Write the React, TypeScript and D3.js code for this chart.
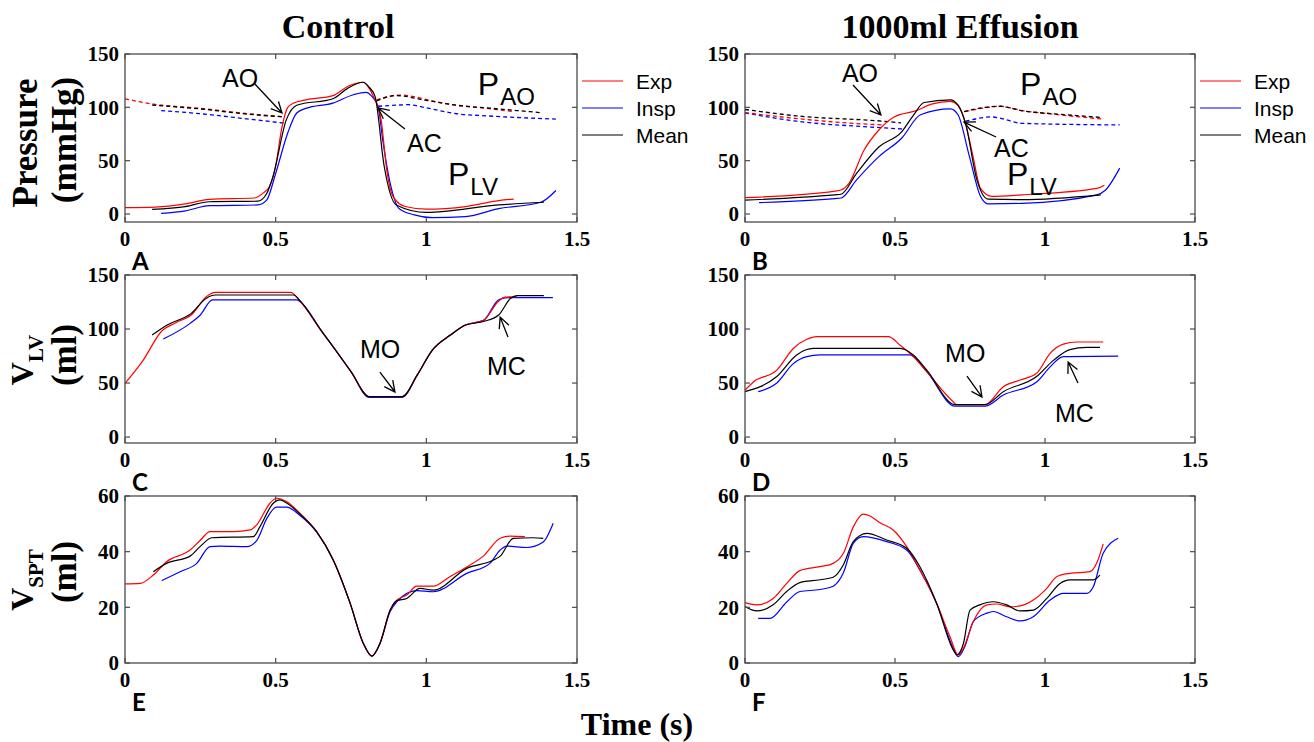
import React from "react";
import * as d3 from "d3";

type Pt = [number, number];

// ---------- Panel A : Control, pressure (P_LV solid, P_AO dashed) ----------
const ctrlPlvExp: Pt[] = [[0,6],[0.1,6.5],[0.2,9.5],[0.28,13.8],[0.43,15],[0.46,20],[0.48,26],[0.5,45],[0.52,80],[0.54,100],[0.56,104],[0.6,107],[0.69,111],[0.74,119.8],[0.79,123.5],[0.81,118],[0.825,110],[0.85,88],[0.87,38.5],[0.89,16],[0.93,7],[1.0,4.5],[1.13,7],[1.24,12.6],[1.29,14]];
const ctrlPlvInsp: Pt[] = [[0.12,0.5],[0.2,3],[0.28,7.8],[0.44,8.5],[0.47,13],[0.5,38],[0.54,76],[0.57,94.7],[0.6,99],[0.69,104],[0.76,112],[0.8,114],[0.82,110],[0.84,101],[0.855,70],[0.88,29],[0.91,5],[0.96,-0.8],[1.02,-3.4],[1.13,-2.5],[1.24,5],[1.38,11],[1.43,22]];
const ctrlPlvMean: Pt[] = [[0.09,4.4],[0.2,7],[0.28,11.5],[0.44,12],[0.47,19],[0.49,34],[0.535,88],[0.57,102],[0.69,108],[0.74,118],[0.79,123.5],[0.81,119],[0.83,110],[0.86,45],[0.9,8.5],[1.0,1.5],[1.24,8.5],[1.39,11]];
const ctrlPaoExpPre: Pt[] = [[0,108],[0.083,103.5],[0.25,99],[0.41,94],[0.53,91]];
const ctrlPaoInspPre: Pt[] = [[0.12,97],[0.25,94],[0.41,89],[0.535,85]];
const ctrlPaoMeanPre: Pt[] = [[0.09,102],[0.25,98.5],[0.41,93.5],[0.53,91]];
const ctrlPaoExpPost: Pt[] = [[0.835,107],[0.88,110.5],[0.92,111.5],[0.96,110],[1.02,106],[1.1,102],[1.2,99],[1.29,96]];
const ctrlPaoInspPost: Pt[] = [[0.84,101],[0.9,102],[0.94,102.5],[1.0,99.5],[1.1,94],[1.2,92],[1.3,90.5],[1.43,89]];
const ctrlPaoMeanPost: Pt[] = [[0.835,106],[0.9,111],[1.0,106.5],[1.1,102],[1.2,99.5],[1.3,97],[1.38,95]];

// ---------- Panel B : 1000ml Effusion, pressure ----------
const effPlvExp: Pt[] = [[0,15.4],[0.3,21.5],[0.32,22.5],[0.347,29],[0.397,60],[0.447,79],[0.497,91],[0.572,97],[0.622,103],[0.685,105.5],[0.71,102],[0.735,85],[0.76,54],[0.785,24],[0.823,16.6],[0.923,18],[1.173,24],[1.198,27]];
const effPlvInsp: Pt[] = [[0.047,10.7],[0.3,14.5],[0.32,15],[0.372,32],[0.447,54],[0.522,71],[0.585,93],[0.685,98.5],[0.71,93],[0.748,54],[0.785,16.6],[0.81,9.5],[0.923,10],[1.173,18],[1.2,22],[1.249,43]];
const effPlvMean: Pt[] = [[0,13],[0.3,18],[0.32,18.5],[0.372,38],[0.447,63],[0.522,77],[0.56,92],[0.597,104.5],[0.685,107],[0.71,102],[0.735,85],[0.773,32],[0.81,14],[0.923,13.5],[1.186,18]];
const effPaoExpPre: Pt[] = [[0,95],[0.172,89.5],[0.36,85],[0.46,83.5]];
const effPaoInspPre: Pt[] = [[0,94.7],[0.172,87],[0.42,81.5],[0.53,79.6]];
const effPaoMeanPre: Pt[] = [[0,98],[0.172,92],[0.46,87],[0.52,85.5]];
const effPaoExpPost: Pt[] = [[0.735,96],[0.798,99.5],[0.848,101],[0.923,97],[1.048,93],[1.192,89]];
const effPaoInspPost: Pt[] = [[0.735,87],[0.823,91],[0.848,90],[0.923,85],[1.249,83.5]];
const effPaoMeanPost: Pt[] = [[0.73,96],[0.8,100],[0.85,101],[0.92,97],[1.05,93.5],[1.19,90.5]];

// ---------- Panel C : Control, V_LV ----------
const ctrlVlvExp: Pt[] = [[0,49.7],[0.06,71],[0.12,97.5],[0.17,106],[0.22,113],[0.27,130],[0.3,134],[0.55,134],[0.58,126],[0.65,99],[0.7,80],[0.75,60.6],[0.81,37.5],[0.92,37.5],[0.97,57.5],[1.02,80.5],[1.08,94.4],[1.13,103.7],[1.19,108],[1.24,126],[1.26,129.5],[1.3,130]];
const ctrlVlvInsp: Pt[] = [[0.127,90.7],[0.215,105],[0.25,113],[0.29,127],[0.57,127],[0.59,123],[0.65,99],[0.7,80],[0.75,60.6],[0.81,36.8],[0.92,36.8],[0.97,57.5],[1.02,80.5],[1.08,94.4],[1.13,103.7],[1.19,108],[1.24,127],[1.27,129],[1.42,129]];
const ctrlVlvMean: Pt[] = [[0.09,94.4],[0.14,103.7],[0.22,114.5],[0.27,128.5],[0.3,131.5],[0.56,131.5],[0.58,126.5],[0.65,99],[0.7,80],[0.75,60.6],[0.81,37.5],[0.92,37.5],[0.97,57.5],[1.02,80.5],[1.08,94.4],[1.13,103.7],[1.19,107],[1.24,113],[1.28,128.5],[1.3,131],[1.39,131]];

// ---------- Panel D : 1000ml Effusion, V_LV ----------
const effVlvExp: Pt[] = [[0,43.5],[0.028,51],[0.106,62],[0.161,82],[0.206,90.5],[0.239,93],[0.478,93],[0.517,85],[0.561,74.5],[0.606,60.5],[0.694,32.7],[0.706,30],[0.8,30],[0.861,46.6],[0.917,52.8],[0.972,59],[1.017,77.5],[1.061,86],[1.106,88],[1.194,88]];
const effVlvInsp: Pt[] = [[0.044,42],[0.106,50],[0.161,68],[0.206,74.5],[0.25,76],[0.55,76],[0.606,60.5],[0.7,28.6],[0.8,28.6],[0.861,38.9],[0.972,51],[1.017,65],[1.061,74.5],[1.244,75]];
const effVlvMean: Pt[] = [[0,42],[0.106,56],[0.172,76],[0.228,82],[0.517,82],[0.561,76],[0.606,62],[0.7,30],[0.8,30],[0.861,42],[0.972,56],[1.028,71],[1.083,81],[1.139,83],[1.183,83]];

// ---------- Panel E : Control, V_SPT ----------
const ctrlVsptExp: Pt[] = [[0,28.4],[0.05,28.6],[0.094,31.6],[0.138,36.4],[0.216,40.6],[0.249,44],[0.282,47.2],[0.36,47.2],[0.415,47.8],[0.437,49.6],[0.481,57.4],[0.503,59.2],[0.536,58],[0.581,53.7],[0.636,47.2],[0.691,37],[0.747,21.5],[0.791,7],[0.819,2.5],[0.846,7],[0.88,19],[0.902,22.6],[0.935,24.4],[0.968,27.6],[1.023,27.6],[1.078,31],[1.134,34.5],[1.189,38.4],[1.245,44.8],[1.278,45.6],[1.327,45.4]];
const ctrlVsptInsp: Pt[] = [[0.122,29.6],[0.183,32.8],[0.238,35.8],[0.282,41.8],[0.315,42],[0.404,41.8],[0.437,44],[0.47,51.8],[0.503,56],[0.536,56],[0.581,53],[0.636,47],[0.691,37],[0.747,21.5],[0.791,7],[0.819,2.5],[0.846,7],[0.88,18.5],[0.902,22],[0.968,26],[1.023,25.6],[1.134,32.2],[1.211,35.8],[1.245,40.6],[1.267,42],[1.333,41.5],[1.388,43.5],[1.421,50.2]];
const ctrlVsptMean: Pt[] = [[0.094,32.8],[0.138,35.8],[0.216,38.4],[0.249,41.8],[0.288,45],[0.426,45.4],[0.448,49],[0.492,57.4],[0.514,58.6],[0.536,57.5],[0.581,53.5],[0.636,47.2],[0.691,37],[0.747,21.5],[0.791,7],[0.819,2.5],[0.846,7],[0.88,19],[0.902,22.4],[0.935,23.2],[0.979,26.8],[1.023,26.2],[1.134,34],[1.223,37],[1.245,38.4],[1.289,44.8],[1.355,45],[1.388,44.8]];

// ---------- Panel F : 1000ml Effusion, V_SPT ----------
const effVsptExp: Pt[] = [[0,21.7],[0.039,20.9],[0.094,23.2],[0.139,28.6],[0.183,33.2],[0.25,34.6],[0.294,35.8],[0.328,39.4],[0.361,48.9],[0.394,53.5],[0.417,52.8],[0.45,50.4],[0.494,47.8],[0.539,41.8],[0.583,33.4],[0.639,21.4],[0.683,9.5],[0.711,2.9],[0.728,5.3],[0.761,14.9],[0.806,20.9],[0.839,21.2],[0.883,20.2],[0.917,20.5],[0.961,22.6],[1.006,26.8],[1.039,31],[1.083,32.2],[1.15,32.8],[1.172,35.8],[1.194,42.8]];
const effVsptInsp: Pt[] = [[0.044,16],[0.083,16],[0.139,21.9],[0.183,25.7],[0.25,26.4],[0.294,27.6],[0.328,32.4],[0.361,43],[0.394,45.4],[0.472,43.6],[0.539,40.6],[0.583,33.4],[0.639,21.4],[0.694,5.3],[0.711,2.3],[0.733,5.9],[0.761,14.9],[0.806,17.9],[0.828,18.5],[0.872,16.6],[0.917,15.1],[0.961,16.6],[1.017,22.6],[1.061,25],[1.139,25],[1.161,27.4],[1.194,39.4],[1.244,44.8]];
const effVsptMean: Pt[] = [[0,20.3],[0.039,18.7],[0.094,20.9],[0.139,25.7],[0.183,28.9],[0.25,29.9],[0.294,30.8],[0.328,35.3],[0.361,43.6],[0.406,46.6],[0.472,44.2],[0.539,41.2],[0.583,34.6],[0.639,21.4],[0.694,4.7],[0.706,2.9],[0.728,7],[0.75,19],[0.783,20.9],[0.828,22],[0.872,20.9],[0.917,18.7],[0.961,19],[1.006,23.2],[1.05,28.6],[1.083,29.9],[1.161,29.9],[1.183,31.6]];

// ---------- ticks, labels ----------
const xTicks = [0, 0.5, 1, 1.5];
const xTickLabels = ["0", "0.5", "1", "1.5"];
const pressureTicks = [0, 50, 100, 150];
const vlvTicks = [0, 50, 100, 150];
const vsptTicks = [0, 20, 40, 60];
const columnTitles = ["Control", "1000ml Effusion"];
const legendLabels = ["Exp", "Insp", "Mean"];
const panelLetters = ["A", "B", "C", "D", "E", "F"];

const RED = "#ff0000";
const BLUE = "#0000ff";
const BLACK = "#000000";
const SERIF = "'Liberation Serif','Times New Roman',serif";
const SANS = "'Liberation Sans',Arial,sans-serif";
const LETTERF = "Lato,'Open Sans',sans-serif";
const AXC = "#4a4a4a";

type Annot = { text: string; tx: number; ty: number; from: Pt; to: Pt };
type PLabel = { main: string; sub: string; at: Pt };

interface PanelProps {
  x0: number; x1: number; yTop: number; yBot: number;
  ydom: [number, number]; yticks: number[];
  solid: [Pt[], string][];
  dashed?: [Pt[], string][];
  annots?: Annot[];
  plabels?: PLabel[];
  letter: string;
}

function Panel(p: PanelProps) {
  const xs = d3.scaleLinear().domain([0, 1.5]).range([p.x0, p.x1]);
  const ys = d3.scaleLinear().domain(p.ydom).range([p.yBot, p.yTop]);
  const line = d3.line<Pt>().x((d) => xs(d[0])).y((d) => ys(d[1])).curve(d3.curveMonotoneX);
  const tl = 5;
  const arrowHead = (from: Pt, to: Pt) => {
    const fx = xs(from[0]), fy = ys(from[1]), tx = xs(to[0]), ty = ys(to[1]);
    const ang = Math.atan2(ty - fy, tx - fx);
    const L = 12, a = (26 * Math.PI) / 180;
    const p1 = [tx - L * Math.cos(ang - a), ty - L * Math.sin(ang - a)];
    const p2 = [tx - L * Math.cos(ang + a), ty - L * Math.sin(ang + a)];
    return `M${fx},${fy}L${tx},${ty}M${p1[0]},${p1[1]}L${tx},${ty}L${p2[0]},${p2[1]}`;
  };
  return (
    <g>
      {(p.dashed || []).map(([d, c], i) => (
        <path key={"d" + i} d={line(d) || ""} fill="none" stroke={c} strokeWidth={1.3} strokeDasharray="4 3" />
      ))}
      {p.solid.map(([d, c], i) => (
        <path key={"s" + i} d={line(d) || ""} fill="none" stroke={c} strokeWidth={1.2} />
      ))}
      <rect x={p.x0} y={p.yTop} width={p.x1 - p.x0} height={p.yBot - p.yTop} fill="none" stroke={AXC} strokeWidth={1.3} />
      {xTicks.map((t, i) => (
        <g key={"xt" + i}>
          <line x1={xs(t)} x2={xs(t)} y1={p.yBot} y2={p.yBot - tl} stroke={AXC} strokeWidth={1.2} />
          <line x1={xs(t)} x2={xs(t)} y1={p.yTop} y2={p.yTop + tl} stroke={AXC} strokeWidth={1.2} />
          <text x={xs(t)} y={p.yBot + 24} textAnchor="middle" fontFamily={SERIF} fontWeight="bold" fontSize={21}>{xTickLabels[i]}</text>
        </g>
      ))}
      {p.yticks.map((v, i) => (
        <g key={"yt" + i}>
          <line x1={p.x0} x2={p.x0 + tl} y1={ys(v)} y2={ys(v)} stroke={AXC} strokeWidth={1.2} />
          <line x1={p.x1} x2={p.x1 - tl} y1={ys(v)} y2={ys(v)} stroke={AXC} strokeWidth={1.2} />
          <text x={p.x0 - 6} y={ys(v)} dy="0.35em" textAnchor="end" fontFamily={SERIF} fontWeight="bold" fontSize={21}>{v}</text>
        </g>
      ))}
      {(p.annots || []).map((a, i) => (
        <g key={"a" + i}>
          <path d={arrowHead(a.from, a.to)} fill="none" stroke="#000" strokeWidth={1.3} />
          <text x={xs(a.tx)} y={ys(a.ty)} fontFamily={SANS} fontSize={25}>{a.text}</text>
        </g>
      ))}
      {(p.plabels || []).map((l, i) => (
        <text key={"pl" + i} x={xs(l.at[0])} y={ys(l.at[1])} fontFamily={SANS} fontSize={32}>
          {l.main}
          <tspan fontSize={24} dy={10} dx={1}>{l.sub}</tspan>
        </text>
      ))}
      <text x={p.x0 + 7} y={p.yBot + 48} fontFamily={LETTERF} fontWeight="bold" fontSize={24}>{p.letter}</text>
    </g>
  );
}

function Legend({ x, y }: { x: number; y: number }) {
  const cols = [RED, BLUE, BLACK];
  return (
    <g>
      {legendLabels.map((l, i) => (
        <g key={l}>
          <line x1={x} x2={x + 41} y1={y + i * 27} y2={y + i * 27} stroke={cols[i]} strokeWidth={1.2} />
          <text x={x + 54} y={y + i * 27} dy="0.36em" fontFamily={SANS} fontSize={21}>{l}</text>
        </g>
      ))}
    </g>
  );
}

function RotLabel({ x, y, main, sub, second, x2, y2 }: { x: number; y: number; main: string; sub?: string; second: string; x2: number; y2: number }) {
  return (
    <g fontFamily={SERIF} fontWeight="bold">
      <text transform={`translate(${x},${y}) rotate(-90)`} textAnchor="middle" fontSize={sub ? 32 : 35}>
        {main}
        {sub ? <tspan fontSize={21} dy={10}>{sub}</tspan> : null}
      </text>
      <text transform={`translate(${x2},${y2}) rotate(-90)`} textAnchor="middle" fontSize={35}>{second}</text>
    </g>
  );
}

export default function App() {
  const L = { x0: 125, x1: 577 };
  const R = { x0: 745, x1: 1195 };
  const row1 = { yTop: 54, yBot: 222, ydom: [-7.5, 150] as [number, number] };
  const row2 = { yTop: 275, yBot: 443, ydom: [-5.5, 150] as [number, number] };
  const row3 = { yTop: 496, yBot: 663, ydom: [0, 60] as [number, number] };
  return (
    <svg width={1314} height={742} style={{ position: "absolute", left: 0, top: 0, background: "#fff" }}>
      <rect width={1314} height={742} fill="#fff" />
      <text x={338} y={38} textAnchor="middle" fontFamily={SERIF} fontWeight="bold" fontSize={34}>{columnTitles[0]}</text>
      <text x={960} y={38} textAnchor="middle" fontFamily={SERIF} fontWeight="bold" fontSize={34}>{columnTitles[1]}</text>

      <RotLabel x={37} y={143} main="Pressure" second="(mmHg)" x2={76} y2={140} />
      <RotLabel x={33} y={360} main="V" sub="LV" second="(ml)" x2={76} y2={355} />
      <RotLabel x={33} y={580} main="V" sub="SPT" second="(ml)" x2={76} y2={572} />

      <Panel {...L} {...row1} yticks={pressureTicks} letter={panelLetters[0]}
        dashed={[[ctrlPaoInspPre, BLUE], [ctrlPaoInspPost, BLUE], [ctrlPaoExpPre, RED], [ctrlPaoExpPost, RED], [ctrlPaoMeanPre, BLACK], [ctrlPaoMeanPost, BLACK]]}
        solid={[[ctrlPlvInsp, BLUE], [ctrlPlvExp, RED], [ctrlPlvMean, BLACK]]}
        annots={[
          { text: "AO", tx: 0.322, ty: 119, from: [0.431, 121.9], to: [0.521, 94.7] },
          { text: "AC", tx: 0.936, ty: 58.1, from: [0.929, 79.7], to: [0.84, 99.4] },
        ]}
        plabels={[{ main: "P", sub: "AO", at: [1.171, 111.6] }, { main: "P", sub: "LV", at: [1.072, 27.2] }]}
      />
      <Panel {...R} {...row1} yticks={pressureTicks} letter={panelLetters[1]}
        dashed={[[effPaoInspPre, BLUE], [effPaoInspPost, BLUE], [effPaoExpPre, RED], [effPaoExpPost, RED], [effPaoMeanPre, BLACK], [effPaoMeanPost, BLACK]]}
        solid={[[effPlvInsp, BLUE], [effPlvExp, RED], [effPlvMean, BLACK]]}
        annots={[
          { text: "AO", tx: 0.323, ty: 123.7, from: [0.36, 120.9], to: [0.453, 92.8] },
          { text: "AC", tx: 0.83, ty: 53.4, from: [0.837, 72.2], to: [0.73, 86.2] },
        ]}
        plabels={[{ main: "P", sub: "AO", at: [0.917, 111.6] }, { main: "P", sub: "LV", at: [0.873, 27.2] }]}
      />
      <Panel {...L} {...row2} yticks={vlvTicks} letter={panelLetters[2]}
        solid={[[ctrlVlvInsp, BLUE], [ctrlVlvExp, RED], [ctrlVlvMean, BLACK]]}
        annots={[
          { text: "MO", tx: 0.78, ty: 73.1, from: [0.846, 60.2], to: [0.896, 41.7] },
          { text: "MC", tx: 1.201, ty: 57.4, from: [1.271, 92.6], to: [1.245, 111] },
        ]}
      />
      <Panel {...R} {...row2} yticks={vlvTicks} letter={panelLetters[3]}
        solid={[[effVlvInsp, BLUE], [effVlvExp, RED], [effVlvMean, BLACK]]}
        annots={[
          { text: "MO", tx: 0.667, ty: 69.4, from: [0.74, 56.5], to: [0.79, 37] },
          { text: "MC", tx: 1.033, ty: 13.9, from: [1.11, 50], to: [1.077, 69.4] },
        ]}
      />
      <Panel {...L} {...row3} yticks={vsptTicks} letter={panelLetters[4]}
        solid={[[ctrlVsptInsp, BLUE], [ctrlVsptExp, RED], [ctrlVsptMean, BLACK]]}
      />
      <Panel {...R} {...row3} yticks={vsptTicks} letter={panelLetters[5]}
        solid={[[effVsptInsp, BLUE], [effVsptExp, RED], [effVsptMean, BLACK]]}
      />

      <Legend x={582} y={81} />
      <Legend x={1200} y={81} />

      <text x={637} y={735} textAnchor="middle" fontFamily={SERIF} fontWeight="bold" fontSize={32}>Time (s)</text>
    </svg>
  );
}
